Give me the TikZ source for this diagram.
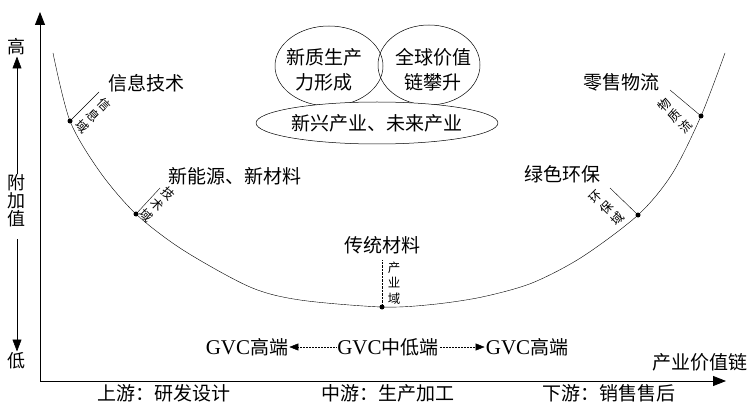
\documentclass[tikz,border=0pt]{standalone}
\usepackage{fontspec}
\setmainfont{Liberation Serif}
\newfontfamily\cjk{Noto Sans CJK SC}
\usetikzlibrary{arrows.meta,shapes.geometric}
\newcommand\myGVC{{\rmfamily\fontsize{21}{22}\selectfont GVC}}
\begin{document}
\begin{tikzpicture}[x=1pt,y=-1pt,
  big/.style={font=\cjk\fontsize{19}{25}\selectfont, inner sep=1pt, align=center},
  side/.style={font=\cjk\fontsize{18}{18}\selectfont, inner sep=1pt, align=center},
  small/.style={font=\cjk\fontsize{12.5}{15.5}\selectfont, align=center, inner sep=0pt},
  dotpt/.style={circle, fill=black, inner sep=0pt, minimum size=5pt},
  ax/.style={line width=0.8pt, -{Triangle[length=13pt,width=10pt]}},
  sidearr/.style={line width=0.6pt, -{Triangle[length=12pt,width=9pt]}},
  gvcarr/.style={line width=0.5pt, densely dotted, -{Triangle[length=9pt,width=7pt]}},
  thinline/.style={line width=0.4pt},
  ell/.style={ellipse, draw, line width=0.5pt, inner sep=0pt, align=center, font=\cjk\fontsize{19}{25}\selectfont},
]
\useasboundingbox (0,0) rectangle (751,406);

% axes
\coordinate (O) at (40,381);
\coordinate (ytop) at (40,12);
\coordinate (xend) at (726,381);
\draw[ax] (O) -- (ytop);
\draw[ax] (O) -- (xend);
\node[big] (xlab) at (700,362) {产业价值链};

% left column
\node[side] (hi) at (17,47) {高};
\node[side] (fjz) at (17,201) {附\\加\\值};
\node[side] (lo) at (17,361) {低};
\draw[sidearr] (fjz.north) -- (hi.south);
\draw[sidearr] ([yshift=-11pt]fjz.south) -- (lo.north);

% smile curve
\draw[thinline] plot[smooth, tension=0.5] coordinates {(53,53) (70,121) (100,172) (136,214) (183,250) (250,287) (300,300) (382,307) (432,304.5) (482,297) (532,283) (582,257) (638,215) (672,174) (701,116) (725,53)};

% dots and tick lines
\node[dotpt] (d1) at (70,121) {};
\coordinate (t1) at (99,92);
\draw[thinline] (d1.center) -- (t1);
\node[small, rotate=-45] (s1) at (93,116) {信\\息\\域};

\node[dotpt] (d2) at (136,214) {};
\coordinate (t2) at (160,188);
\draw[thinline] (d2.center) -- (t2);
\node[small, rotate=-45] (s2) at (157,205) {技\\术\\域};

\node[dotpt] (d3) at (382,307) {};
\coordinate (t3) at (382,260);
\draw[thinline, densely dotted] (d3.center) -- (t3);
\node[small] (s3) at (394,283) {产\\业\\域};

\node[dotpt] (d4) at (638,215) {};
\coordinate (t4) at (610,188);
\draw[thinline] (d4.center) -- (t4);
\node[small, rotate=45] (s4) at (607,208) {环\\保\\域};

\node[dotpt] (d5) at (701,116) {};
\coordinate (t5) at (670,90);
\draw[thinline] (d5.center) -- (t5);
\node[small, rotate=45] (s5) at (675,116) {物\\质\\流};

% labels
\node[big] (l1) at (146,83) {信息技术};
\node[big] (l2) at (235,176) {新能源、新材料};
\node[big] (l3) at (382,245) {传统材料};
\node[big] (l4) at (562,174) {绿色环保};
\node[big] (l5) at (621,82) {零售物流};

% ellipses
\node[ell, minimum width=108pt, minimum height=80pt] (e1) at (329,66) {};
\node[ell, minimum width=102pt, minimum height=80pt] (e2) at (429,65) {};
\node[ell, fill=white, minimum width=240pt, minimum height=42pt] (e3) at (377,123) {新兴产业、未来产业};
\node[big] (e1t) at (324,70) {新质生产\\力形成};
\node[big] (e2t) at (433,70) {全球价值\\链攀升};

% GVC row
\node[big] (g1) at (247,347) {\myGVC 高端};
\node[big] (g2) at (388,347) {\myGVC 中低端};
\node[big] (g3) at (527,347) {\myGVC 高端};
\draw[gvcarr] (g2) -- (g1);
\draw[gvcarr] (g2) -- (g3);

% bottom row
\node[big] (b1) at (164,393) {上游：研发设计};
\node[big] (b2) at (388,393) {中游：生产加工};
\node[big] (b3) at (609,393) {下游：销售售后};
\end{tikzpicture}
\end{document}
